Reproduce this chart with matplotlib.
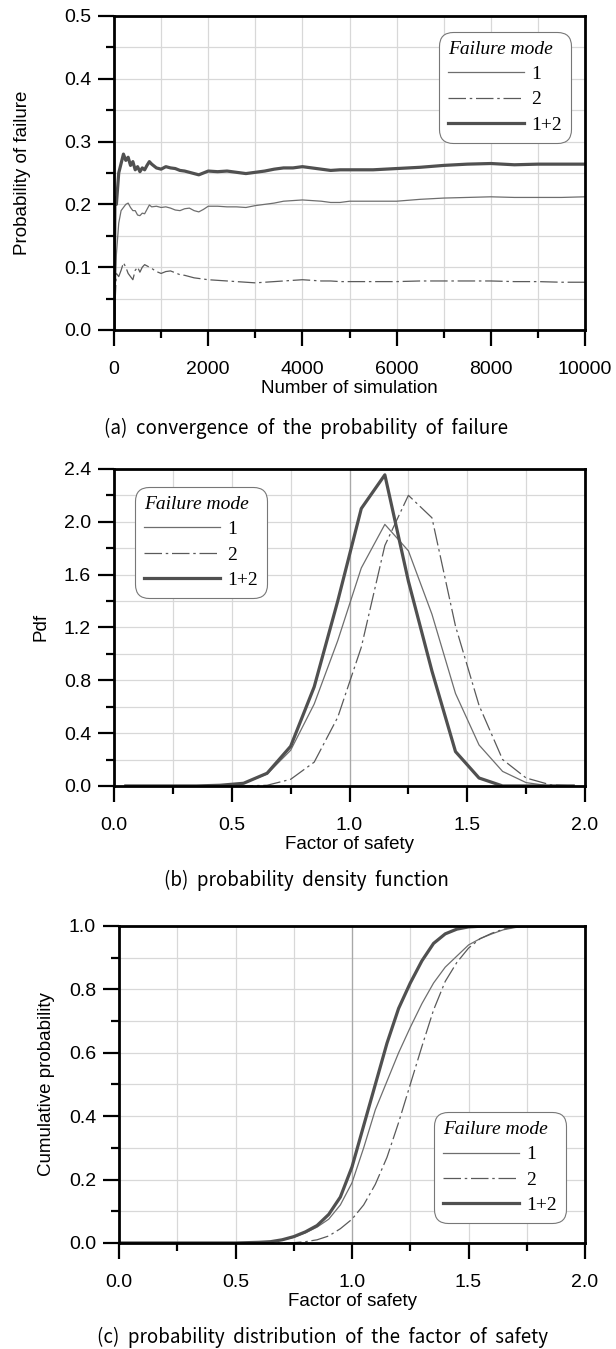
import numpy as np
import matplotlib
matplotlib.use('Agg')
import matplotlib.pyplot as plt
from matplotlib.ticker import MultipleLocator, FormatStrFormatter

plt.rcParams['font.family'] = ['Liberation Sans', 'DejaVu Sans']

# (a) convergence of the probability of failure
n_sim = [0, 20, 50, 100, 150, 200, 250, 300, 350, 400, 450, 500, 550, 600, 650, 700,
         750, 800, 900, 1000, 1100, 1200, 1300, 1400, 1500, 1600, 1700, 1800, 1900,
         2000, 2200, 2400, 2600, 2800, 3000, 3200, 3400, 3600, 3800, 4000, 4200, 4400,
         4600, 4800, 5000, 5500, 6000, 6500, 7000, 7500, 8000, 8500, 9000, 9500, 10000]
pf_mode1 = [0.0, 0.05, 0.12, 0.17, 0.19, 0.195, 0.2, 0.202, 0.195, 0.19, 0.19, 0.183,
            0.182, 0.186, 0.185, 0.192, 0.199, 0.196, 0.197, 0.195, 0.196, 0.194, 0.191,
            0.19, 0.193, 0.194, 0.19, 0.188, 0.192, 0.197, 0.197, 0.196, 0.196, 0.195,
            0.198, 0.2, 0.202, 0.205, 0.206, 0.207, 0.206, 0.205, 0.203, 0.203, 0.205,
            0.205, 0.205, 0.208, 0.21, 0.211, 0.212, 0.211, 0.211, 0.211, 0.212]
pf_mode2 = [0.0, 0.04, 0.09, 0.085, 0.095, 0.107, 0.1, 0.09, 0.085, 0.08, 0.095, 0.1,
            0.092, 0.1, 0.104, 0.102, 0.1, 0.098, 0.093, 0.09, 0.093, 0.094, 0.091,
            0.088, 0.087, 0.085, 0.083, 0.082, 0.081, 0.08, 0.079, 0.078, 0.077, 0.076,
            0.075, 0.076, 0.077, 0.078, 0.079, 0.08, 0.079, 0.078, 0.078, 0.077, 0.077,
            0.077, 0.077, 0.078, 0.078, 0.078, 0.078, 0.077, 0.077, 0.076, 0.076]
pf_mode12 = [0.0, 0.21, 0.2, 0.25, 0.265, 0.28, 0.27, 0.275, 0.262, 0.268, 0.255, 0.26,
             0.252, 0.258, 0.255, 0.262, 0.268, 0.264, 0.258, 0.256, 0.26, 0.258, 0.257,
             0.254, 0.253, 0.251, 0.249, 0.247, 0.25, 0.253, 0.252, 0.253, 0.251, 0.249,
             0.251, 0.253, 0.256, 0.258, 0.258, 0.26, 0.258, 0.256, 0.254, 0.255, 0.255,
             0.255, 0.257, 0.259, 0.262, 0.264, 0.265, 0.263, 0.264, 0.264, 0.264]

# (b) probability density function
fs_bins = [0.05, 0.15, 0.25, 0.35, 0.45, 0.55, 0.65, 0.75, 0.85, 0.95, 1.05, 1.15,
           1.25, 1.35, 1.45, 1.55, 1.65, 1.75, 1.85, 1.95]
pdf_mode1 = [0, 0, 0, 0, 0.003, 0.02, 0.09, 0.27, 0.62, 1.1, 1.65, 1.98,
             1.78, 1.3, 0.7, 0.31, 0.11, 0.025, 0.0, 0]
pdf_mode2 = [0, 0, 0, 0, 0, 0, 0.005, 0.05, 0.18, 0.52, 1.05, 1.82,
             2.2, 2.03, 1.21, 0.61, 0.2, 0.06, 0.01, 0]
pdf_mode12 = [0, 0, 0, 0, 0.005, 0.02, 0.096, 0.3, 0.75, 1.4, 2.1, 2.355,
              1.55, 0.87, 0.26, 0.06, 0.0, 0, 0, 0]

# (c) cumulative probability
fs_cdf = [0.0, 0.5, 0.55, 0.6, 0.65, 0.7, 0.75, 0.8, 0.85, 0.9, 0.95, 1.0, 1.05, 1.1,
          1.15, 1.2, 1.25, 1.3, 1.35, 1.4, 1.45, 1.5, 1.55, 1.6, 1.65, 1.7, 1.75,
          1.8, 1.85, 2.0]
cdf_mode1 = [0, 0, 0.001, 0.002, 0.004, 0.009, 0.018, 0.032, 0.05, 0.075, 0.12, 0.19,
             0.3, 0.42, 0.51, 0.6, 0.68, 0.755, 0.82, 0.87, 0.905, 0.94, 0.96, 0.975,
             0.988, 0.995, 0.999, 1.0, 1.0, 1.0]
cdf_mode2 = [0, 0, 0, 0, 0, 0, 0.001, 0.004, 0.01, 0.022, 0.045, 0.075, 0.12, 0.185,
             0.27, 0.38, 0.5, 0.62, 0.735, 0.825, 0.885, 0.93, 0.96, 0.977, 0.99,
             0.997, 1.0, 1.0, 1.0, 1.0]
cdf_mode12 = [0, 0, 0.001, 0.002, 0.004, 0.01, 0.02, 0.035, 0.055, 0.09, 0.145, 0.24,
              0.37, 0.5, 0.63, 0.74, 0.82, 0.89, 0.945, 0.975, 0.99, 0.997, 0.999,
              1.0, 1.0, 1.0, 1.0, 1.0, 1.0, 1.0]

labels = ['1', '2', '1+2']
styles = [dict(color='#6e6e6e', lw=0.9, ls='-'),
          dict(color='#5a5a5a', lw=0.9, ls=(0, (14, 3, 2, 3))),
          dict(color='#505050', lw=2.3, ls='-')]

fig = plt.figure(figsize=(6.16, 13.49), dpi=100)
ax_a = fig.add_axes([0.1851, 0.7554, 0.7646, 0.2328])
ax_b = fig.add_axes([0.1851, 0.4174, 0.7646, 0.2350])
ax_c = fig.add_axes([0.1932, 0.0786, 0.7565, 0.2350])


def style_axes(ax, xmaj, xmin, ymaj, ymin, xfmt, yfmt):
    ax.xaxis.set_major_locator(MultipleLocator(xmaj))
    ax.xaxis.set_minor_locator(MultipleLocator(xmin))
    ax.yaxis.set_major_locator(MultipleLocator(ymaj))
    ax.yaxis.set_minor_locator(MultipleLocator(ymin))
    ax.xaxis.set_major_formatter(FormatStrFormatter(xfmt))
    ax.yaxis.set_major_formatter(FormatStrFormatter(yfmt))
    ax.grid(True, which='both', color='#d8d8d8', lw=0.9, zorder=0)
    ax.set_axisbelow(True)
    for s in ax.spines.values():
        s.set_linewidth(2.0)
        s.set_color('black')
    ax.tick_params(which='major', direction='out', length=11.5, width=1.6,
                   labelsize=14, pad=5)
    ax.tick_params(axis='x', which='major', pad=11)
    ax.tick_params(which='minor', direction='out', length=6, width=1.6)
    ax.tick_params(top=False, right=False, which='both')


def add_legend(ax, loc, anchor):
    leg = ax.legend(loc=loc, bbox_to_anchor=anchor, borderaxespad=0,
                    title='Failure mode', alignment='left', frameon=True,
                    fancybox=True, handlelength=3.9, handletextpad=0.4,
                    labelspacing=0.4, borderpad=0.45,
                    prop=dict(family='Liberation Serif', size=14),
                    title_fontproperties=dict(family='Liberation Serif',
                                              style='italic', size=14))
    fr = leg.get_frame()
    fr.set_edgecolor('#777777')
    fr.set_linewidth(0.8)
    fr.set_alpha(1)
    fr.set_boxstyle('round', pad=0, rounding_size=0.7)


# panel (a)
for y, lab, st in zip([pf_mode1, pf_mode2, pf_mode12], labels, styles):
    ax_a.plot(n_sim, y, label=lab, **st)
ax_a.set_xlim(0, 10000)
ax_a.set_ylim(0, 0.5)
style_axes(ax_a, 2000, 1000, 0.1, 0.05, '%d', '%.1f')
ax_a.set_xlabel('Number of simulation', fontsize=13.5, labelpad=1)
ax_a.set_ylabel('Probability of failure', fontsize=13.5, labelpad=24)
add_legend(ax_a, 'upper right', (0.970, 0.949))

# panel (b)
ax_b.axvline(1.0, color='#a8a8a8', lw=0.9, zorder=1)
for y, lab, st in zip([pdf_mode1, pdf_mode2, pdf_mode12], labels, styles):
    ax_b.plot(fs_bins, y, label=lab, **st)
ax_b.set_xlim(0, 2.0)
ax_b.set_ylim(0, 2.4)
style_axes(ax_b, 0.5, 0.25, 0.4, 0.2, '%.1f', '%.1f')
ax_b.set_xlabel('Factor of safety', fontsize=13.5, labelpad=1)
ax_b.set_ylabel('Pdf', fontsize=13.5, labelpad=10)
add_legend(ax_b, 'upper left', (0.0446, 0.943))

# panel (c)
ax_c.axvline(1.0, color='#a8a8a8', lw=0.9, zorder=1)
for y, lab, st in zip([cdf_mode1, cdf_mode2, cdf_mode12], labels, styles):
    ax_c.plot(fs_cdf, y, label=lab, **st)
ax_c.set_xlim(0, 2.0)
ax_c.set_ylim(0, 1.0)
style_axes(ax_c, 0.5, 0.25, 0.2, 0.1, '%.1f', '%.1f')
ax_c.set_xlabel('Factor of safety', fontsize=13.5, labelpad=1)
ax_c.set_ylabel('Cumulative probability', fontsize=13.5, labelpad=10)
add_legend(ax_c, 'lower right', (0.959, 0.063))

cap_font = ['Noto Sans CJK KR', 'DejaVu Sans']
fig.text(0.497, 1 - 428 / 1349, '(a)  convergence  of  the  probability  of  failure',
         ha='center', va='center', fontsize=13.5, family=cap_font)
fig.text(0.497, 1 - 880 / 1349, '(b)  probability  density  function',
         ha='center', va='center', fontsize=13.5, family=cap_font)
fig.text(0.523, 1 - 1337 / 1349, '(c)  probability  distribution  of  the  factor  of  safety',
         ha='center', va='center', fontsize=13.5, family=cap_font)

fig.savefig('out.png', dpi=100)
